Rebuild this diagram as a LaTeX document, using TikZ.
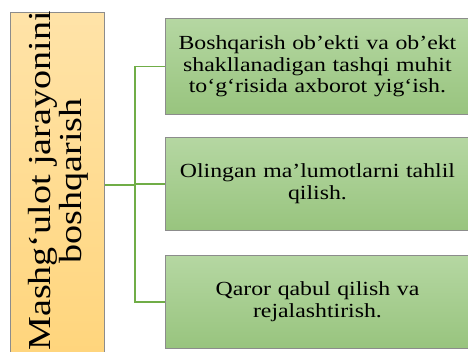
\documentclass[tikz,border=0pt]{standalone}
\usepackage{fontspec}
\setmainfont{Liberation Serif}
\newfontfamily\greenfont[FakeStretch=1.19]{Liberation Serif}
\newfontfamily\mainfont[FakeStretch=1.19]{Liberation Serif}
\usetikzlibrary{positioning}
\definecolor{orTop}{HTML}{FFE3A8}
\definecolor{orBot}{HTML}{FFD57C}
\definecolor{grTop}{HTML}{B5D7A2}
\definecolor{grBot}{HTML}{98C47E}
\definecolor{lineGr}{HTML}{70AD47}
\definecolor{bord}{HTML}{8C8C8C}
\tikzset{
  greenbox/.style={draw=bord, line width=0.9pt, top color=grTop, bottom color=grBot,
    minimum width=304pt, minimum height=96pt, anchor=north west, inner sep=0pt,
    align=center, font=\greenfont\fontsize{20}{21.6}\selectfont, text width=300pt},
  mainbox/.style={draw=bord, line width=0.9pt, top color=orTop, bottom color=orBot,
    minimum width=94pt, minimum height=345pt, anchor=north west, inner sep=0pt},
  conn/.style={draw=lineGr, line width=1.6pt}
}
\begin{document}
\begin{tikzpicture}[x=1pt,y=1pt]
\useasboundingbox (0,0) rectangle (468,351);
\node[mainbox] (m) at (10,339) {};
\node[rotate=90, align=center, font=\mainfont\fontsize{32}{31}\selectfont] (mt) at (58,170) {Mashg‘ulot jarayonini\\boshqarish};
\node[greenbox] (b1) at (165,333) {Boshqarish ob’ekti va ob’ekt\\shakllanadigan tashqi muhit\\to‘g‘risida axborot yig‘ish.};
\node[greenbox, minimum height=93pt] (b2) at (165,214) {Olingan ma’lumotlarni tahlil\\qilish.};
\node[greenbox, minimum height=93pt] (b3) at (165,96) {Qaror qabul qilish va\\rejalashtirish.};
\coordinate (j) at (135,166);
\draw[conn] (m.east |- j) -- (j);
\draw[conn] (j) |- (b1.west);
\draw[conn] (j) |- (b2.west);
\draw[conn] (j) |- (b3.west);
\end{tikzpicture}
\end{document}
